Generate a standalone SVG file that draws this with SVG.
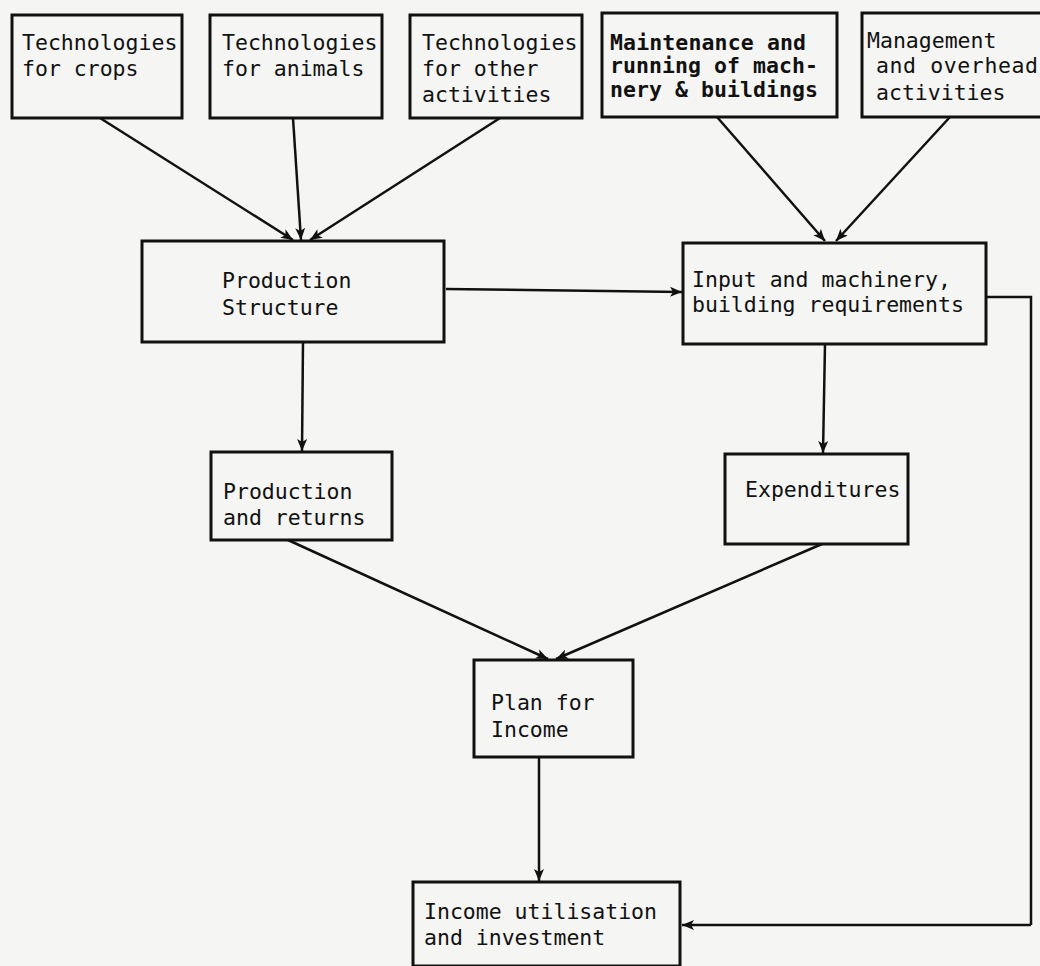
<svg xmlns="http://www.w3.org/2000/svg" width="1040" height="966" viewBox="0 0 1040 966">
<defs>
<marker id="arr" markerUnits="userSpaceOnUse" markerWidth="14" markerHeight="12" refX="12" refY="6" orient="auto">
<path d="M0,1 L12,6 L0,11 L3,6 Z" fill="#111"/>
</marker>
<style>
.box{fill:none;stroke:#111;stroke-width:3}
.t{font-family:"DejaVu Sans Mono","Liberation Mono",monospace;font-size:21.5px;fill:#111}
.b{font-weight:bold}
.c{fill:none;stroke:#111;stroke-width:2.5;marker-end:url(#arr)}
.l{fill:none;stroke:#111;stroke-width:2.5}
</style>
</defs>
<rect width="1040" height="966" fill="#f5f5f3"/>
<g id="connectors">
<line class="c" x1="100" y1="118" x2="293" y2="240"/>
<line class="c" x1="293" y1="118" x2="301" y2="240"/>
<line class="c" x1="500" y1="118" x2="310" y2="240"/>
<line class="c" x1="717" y1="117" x2="825" y2="241"/>
<line class="c" x1="950" y1="117" x2="836" y2="241"/>
<line class="c" x1="446" y1="289" x2="682" y2="292"/>
<line class="c" x1="303" y1="342" x2="302" y2="451"/>
<line class="c" x1="825" y1="344" x2="823" y2="453"/>
<line class="c" x1="288" y1="540" x2="548" y2="659"/>
<line class="c" x1="822" y1="544" x2="556" y2="659"/>
<line class="c" x1="539" y1="757" x2="539" y2="881"/>
<polyline class="l" points="987,297 1031,297 1031,925"/>
<line class="c" x1="1031" y1="925" x2="682" y2="925"/>
</g>
<g id="n1">
<rect class="box" x="12" y="15" width="170" height="103"/>
<text class="t" x="22" y="50">Technologies</text>
<text class="t" x="22" y="76">for crops</text>
</g>
<g id="n2">
<rect class="box" x="210" y="15" width="172" height="103"/>
<text class="t" x="222" y="50">Technologies</text>
<text class="t" x="222" y="76">for animals</text>
</g>
<g id="n3">
<rect class="box" x="410" y="15" width="172" height="103"/>
<text class="t" x="422" y="50">Technologies</text>
<text class="t" x="422" y="76">for other</text>
<text class="t" x="422" y="102">activities</text>
</g>
<g id="n4">
<rect class="box" x="602" y="13" width="235" height="104"/>
<text class="t b" x="610" y="50" textLength="196">Maintenance and</text>
<text class="t b" x="610" y="73" textLength="208">running of mach-</text>
<text class="t b" x="610" y="97" textLength="208">nery &amp; buildings</text>
</g>
<g id="n5">
<rect class="box" x="862" y="13" width="184" height="104"/>
<text class="t" x="867" y="48">Management</text>
<text class="t" x="876" y="73" textLength="162">and overhead</text>
<text class="t" x="876" y="100">activities</text>
</g>
<g id="n6">
<rect class="box" x="142" y="241" width="302" height="101"/>
<text class="t" x="222" y="288">Production</text>
<text class="t" x="222" y="315">Structure</text>
</g>
<g id="n7">
<rect class="box" x="683" y="243" width="303" height="101"/>
<text class="t" x="692" y="287">Input and machinery,</text>
<text class="t" x="692" y="312">building requirements</text>
</g>
<g id="n8">
<rect class="box" x="211" y="452" width="181" height="88"/>
<text class="t" x="223" y="499">Production</text>
<text class="t" x="223" y="525">and returns</text>
</g>
<g id="n9">
<rect class="box" x="725" y="454" width="183" height="90"/>
<text class="t" x="745" y="497">Expenditures</text>
</g>
<g id="n10">
<rect class="box" x="474" y="660" width="159" height="97"/>
<text class="t" x="491" y="710">Plan for</text>
<text class="t" x="491" y="737">Income</text>
</g>
<g id="n11">
<rect class="box" x="413" y="882" width="267" height="84"/>
<text class="t" x="424" y="919">Income utilisation</text>
<text class="t" x="424" y="945">and investment</text>
</g>
</svg>
